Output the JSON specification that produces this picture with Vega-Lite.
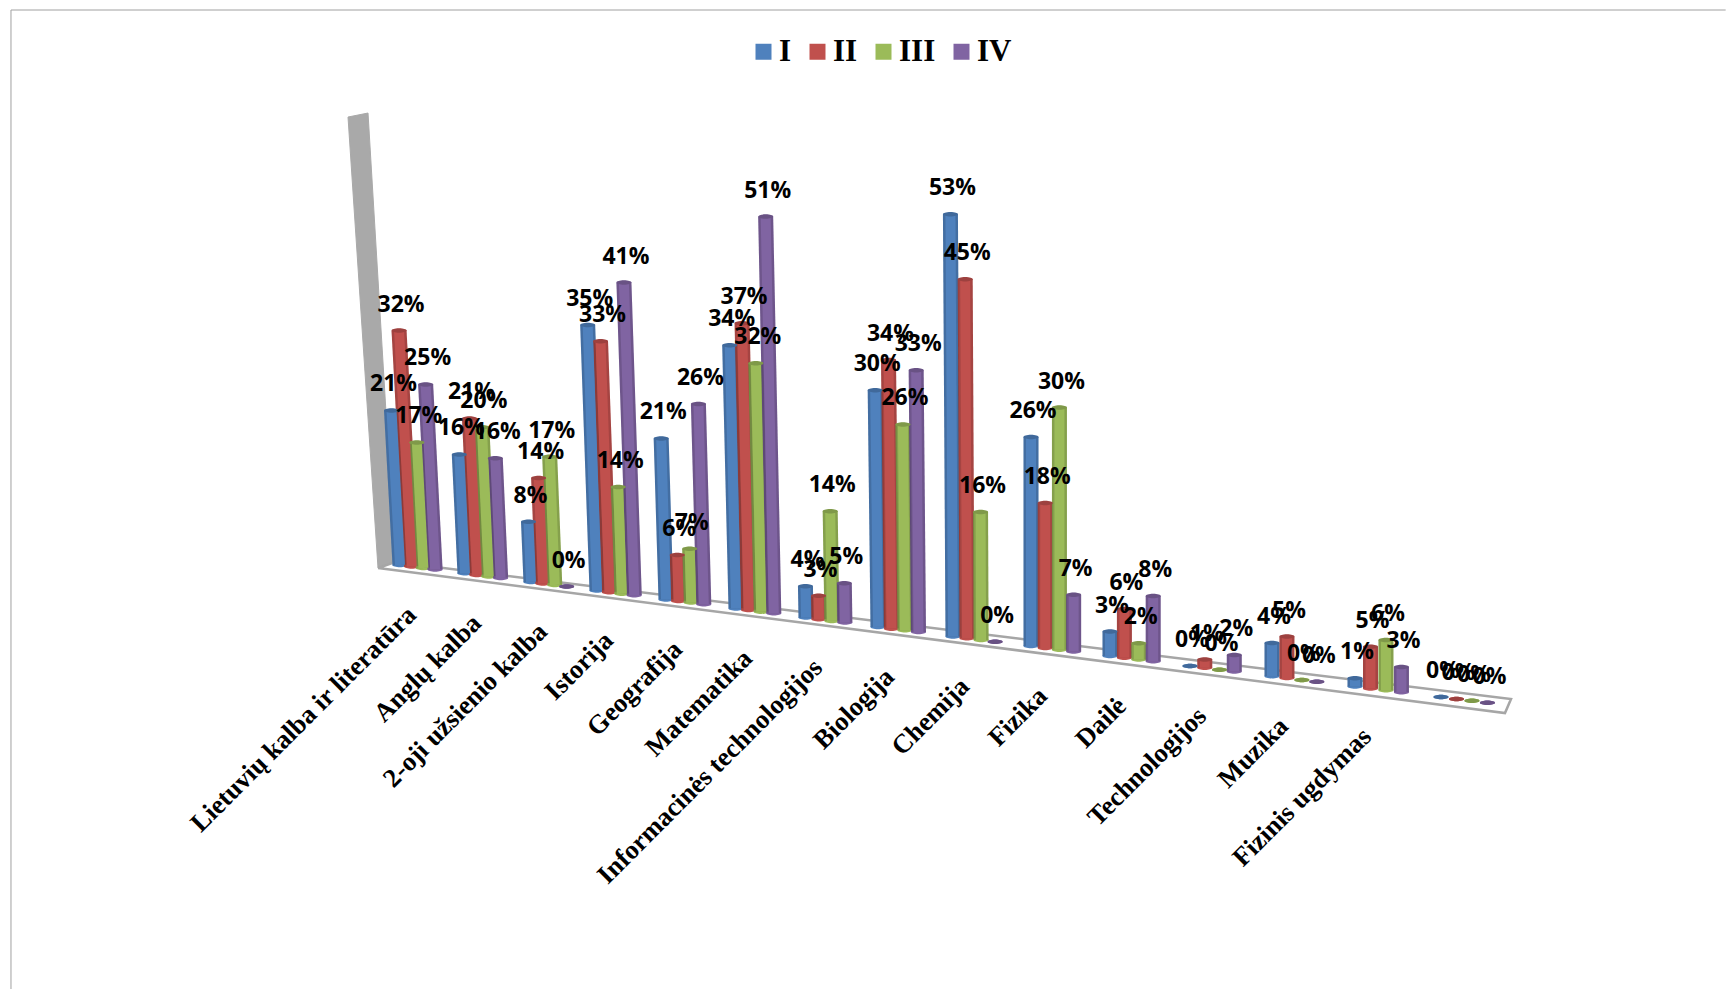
{"$schema":"https://vega.github.io/schema/vega-lite/v6.json","width":1727,"height":989,"autosize":{"type":"fit","contains":"padding"},"padding":0,"background":"white","config":{"view":{"stroke":null}},"data":{"name":"bars"},"datasets":{"bars":[
{"subject":"Lietuvių kalba ir literatūra","nr":1,"series":"I","value":0.21},{"subject":"Lietuvių kalba ir literatūra","nr":1,"series":"II","value":0.32},{"subject":"Lietuvių kalba ir literatūra","nr":1,"series":"III","value":0.17},{"subject":"Lietuvių kalba ir literatūra","nr":1,"series":"IV","value":0.25},
{"subject":"Anglų kalba","nr":2,"series":"I","value":0.16},{"subject":"Anglų kalba","nr":2,"series":"II","value":0.21},{"subject":"Anglų kalba","nr":2,"series":"III","value":0.20},{"subject":"Anglų kalba","nr":2,"series":"IV","value":0.16},
{"subject":"2-oji užsienio kalba","nr":3,"series":"I","value":0.08},{"subject":"2-oji užsienio kalba","nr":3,"series":"II","value":0.14},{"subject":"2-oji užsienio kalba","nr":3,"series":"III","value":0.17},{"subject":"2-oji užsienio kalba","nr":3,"series":"IV","value":0},
{"subject":"Istorija","nr":4,"series":"I","value":0.35},{"subject":"Istorija","nr":4,"series":"II","value":0.33},{"subject":"Istorija","nr":4,"series":"III","value":0.14},{"subject":"Istorija","nr":4,"series":"IV","value":0.41},
{"subject":"Geografija","nr":5,"series":"I","value":0.21},{"subject":"Geografija","nr":5,"series":"II","value":0.06},{"subject":"Geografija","nr":5,"series":"III","value":0.07},{"subject":"Geografija","nr":5,"series":"IV","value":0.26},
{"subject":"Matematika","nr":6,"series":"I","value":0.34},{"subject":"Matematika","nr":6,"series":"II","value":0.37},{"subject":"Matematika","nr":6,"series":"III","value":0.32},{"subject":"Matematika","nr":6,"series":"IV","value":0.51},
{"subject":"Informacinės technologijos","nr":7,"series":"I","value":0.04},{"subject":"Informacinės technologijos","nr":7,"series":"II","value":0.03},{"subject":"Informacinės technologijos","nr":7,"series":"III","value":0.14},{"subject":"Informacinės technologijos","nr":7,"series":"IV","value":0.05},
{"subject":"Biologija","nr":8,"series":"I","value":0.30},{"subject":"Biologija","nr":8,"series":"II","value":0.34},{"subject":"Biologija","nr":8,"series":"III","value":0.26},{"subject":"Biologija","nr":8,"series":"IV","value":0.33},
{"subject":"Chemija","nr":9,"series":"I","value":0.53},{"subject":"Chemija","nr":9,"series":"II","value":0.45},{"subject":"Chemija","nr":9,"series":"III","value":0.16},{"subject":"Chemija","nr":9,"series":"IV","value":0},
{"subject":"Fizika","nr":10,"series":"I","value":0.26},{"subject":"Fizika","nr":10,"series":"II","value":0.18},{"subject":"Fizika","nr":10,"series":"III","value":0.30},{"subject":"Fizika","nr":10,"series":"IV","value":0.07},
{"subject":"Dailė","nr":11,"series":"I","value":0.03},{"subject":"Dailė","nr":11,"series":"II","value":0.06},{"subject":"Dailė","nr":11,"series":"III","value":0.02},{"subject":"Dailė","nr":11,"series":"IV","value":0.08},
{"subject":"Technologijos","nr":12,"series":"I","value":0},{"subject":"Technologijos","nr":12,"series":"II","value":0.01},{"subject":"Technologijos","nr":12,"series":"III","value":0},{"subject":"Technologijos","nr":12,"series":"IV","value":0.02},
{"subject":"Muzika","nr":13,"series":"I","value":0.04},{"subject":"Muzika","nr":13,"series":"II","value":0.05},{"subject":"Muzika","nr":13,"series":"III","value":0},{"subject":"Muzika","nr":13,"series":"IV","value":0},
{"subject":"Fizinis ugdymas","nr":14,"series":"I","value":0.01},{"subject":"Fizinis ugdymas","nr":14,"series":"II","value":0.05},{"subject":"Fizinis ugdymas","nr":14,"series":"III","value":0.06},{"subject":"Fizinis ugdymas","nr":14,"series":"IV","value":0.03},
{"subject":"","nr":15,"series":"I","value":0},{"subject":"","nr":15,"series":"II","value":0},{"subject":"","nr":15,"series":"III","value":0},{"subject":"","nr":15,"series":"IV","value":0}
],
"frame":[
{"part":"page","step":1,"pos":-4.985,"top":-0.5506},{"part":"page","step":2,"pos":-4.985,"top":0.7208},{"part":"page","step":3,"pos":18.31,"top":0.7208},
{"part":"wall","step":1,"pos":0.2,"top":0.5818},{"part":"wall","step":2,"pos":0.508,"top":0.587},{"part":"wall","step":3,"pos":0.923,"top":0.0039},{"part":"wall","step":4,"pos":0.662,"top":-0.0039},{"part":"wall","step":5,"pos":0.2,"top":0.5818},
{"part":"floor","step":1,"pos":0.662,"top":-0.0039},{"part":"floor","step":2,"pos":0.923,"top":0.0039},{"part":"floor","step":3,"pos":15.814,"top":-0.174},{"part":"floor","step":4,"pos":15.744,"top":-0.1922},{"part":"floor","step":5,"pos":0.662,"top":-0.0039}
]},
"transform":[{"calculate":"datum.nr+0.18*indexof(['I','II','III','IV'],datum.series)","as":"pos"},{"calculate":"-(0.01072*(datum.pos-1)+0.000109*(datum.pos-1)*(datum.pos-1))","as":"floor"},{"calculate":"datum.floor+datum.value*(0.956+0.0098*(datum.pos-1))","as":"top"},{"calculate":"datum.pos-max(0,0.055*(1-(datum.pos-1)/9))*(datum.top-datum.floor)*770/(65+1.3*(datum.pos-1))","as":"posTop"}],
"layer":[
{"data":{"name":"frame"},"transform":[{"filter":"datum.part==='wall'"}],"mark":{"type":"line","fill":"#a9a9a9","stroke":"#a9a9a9","strokeWidth":1},"encoding":{"x":{"field":"pos","type":"quantitative","axis":null,"scale":{"domain":[1,2,3,4,5,6,7,8,9,10,11,12,13,14,15],"range":[400,465,531,597,666,736,806,878,953,1031,1110,1190,1272,1355,1441],"nice":false,"zero":false}},"y":{"field":"top","type":"quantitative","axis":null,"scale":{"domain":[-0.5506,0.7338],"range":[989,0],"nice":false,"zero":false}},"order":{"field":"step"}}},
{"data":{"name":"frame"},"transform":[{"filter":"datum.part==='floor'"}],"mark":{"type":"line","stroke":"#a6a6a6","strokeWidth":2.5},"encoding":{"x":{"field":"pos","type":"quantitative"},"y":{"field":"top","type":"quantitative"},"order":{"field":"step"}}},
{"data":{"name":"frame"},"transform":[{"filter":"datum.part==='page'"}],"mark":{"type":"line","stroke":"#a0a0a0","strokeWidth":1},"encoding":{"x":{"field":"pos","type":"quantitative"},"y":{"field":"top","type":"quantitative"},"order":{"field":"step"}}},
{"mark":{"type":"point","filled":true,"opacity":1,"shape":"M-1,0A1,0.3 0 1,1 1,0A1,0.3 0 1,1 -1,0Z","size":225},"encoding":{"x":{"field":"pos","type":"quantitative"},"y":{"field":"floor","type":"quantitative"},"color":{"field":"series","type":"nominal","scale":{"domain":["I","II","III","IV"],"range":["#4f81bd","#c0504d","#9bbb59","#8064a2"]},"legend":{"orient":"none","legendX":748,"legendY":36,"direction":"horizontal","title":null,"symbolType":"square","symbolSize":256,"symbolStrokeWidth":0,"symbolOpacity":1,"labelFont":"Liberation Serif","labelFontWeight":"bold","labelFontSize":31,"labelColor":"black","labelOffset":0,"columnPadding":10,"labelLimit":100}}}},
{"mark":{"type":"rule","strokeWidth":15},"encoding":{"x":{"field":"pos","type":"quantitative"},"x2":{"field":"posTop"},"y":{"field":"floor","type":"quantitative"},"y2":{"field":"top"},"color":{"field":"series","type":"nominal"}}},
{"mark":{"type":"rule","strokeWidth":15,"color":"black","opacity":0.14},"encoding":{"x":{"field":"pos","type":"quantitative"},"x2":{"field":"posTop"},"y":{"field":"floor","type":"quantitative"},"y2":{"field":"top"}}},
{"mark":{"type":"rule","strokeWidth":10},"encoding":{"x":{"field":"pos","type":"quantitative"},"x2":{"field":"posTop"},"y":{"field":"floor","type":"quantitative"},"y2":{"field":"top"},"color":{"field":"series","type":"nominal"}}},
{"mark":{"type":"point","filled":true,"opacity":1,"shape":"M-1,0A1,0.3 0 1,1 1,0A1,0.3 0 1,1 -1,0Z","size":225},"encoding":{"x":{"field":"posTop","type":"quantitative"},"y":{"field":"top","type":"quantitative"},"color":{"field":"series","type":"nominal"}}},
{"mark":{"type":"point","filled":true,"opacity":0.18,"color":"black","shape":"M-1,0A1,0.3 0 1,1 1,0A1,0.3 0 1,1 -1,0Z","size":225},"encoding":{"x":{"field":"posTop","type":"quantitative"},"y":{"field":"top","type":"quantitative"}}},
{"mark":{"type":"text","font":"Open Sans","fontWeight":"bold","fontSize":23,"dy":-26,"dx":2,"color":"black"},"encoding":{"x":{"field":"posTop","type":"quantitative"},"y":{"field":"top","type":"quantitative"},"text":{"field":"value","type":"quantitative","format":".0%"}}},
{"transform":[{"filter":"datum.series==='I'"}],"mark":{"type":"text","font":"Liberation Serif","fontWeight":"bold","fontSize":26.5,"angle":315,"align":"right","baseline":"middle","dx":-24,"dy":41,"color":"black"},"encoding":{"x":{"field":"pos","type":"quantitative"},"y":{"field":"floor","type":"quantitative"},"text":{"field":"subject","type":"nominal"}}}
]}
